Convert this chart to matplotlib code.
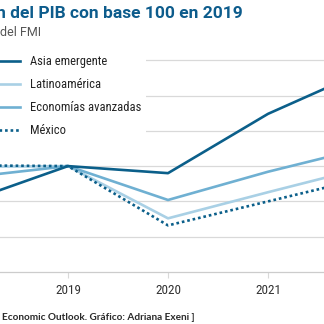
import matplotlib
matplotlib.use("Agg")
import matplotlib.pyplot as plt
from matplotlib import font_manager

years = [2018, 2019, 2020, 2021, 2022]
asia = [95.0, 100.0, 99.0, 107.4, 113.7]
latam = [99.9, 100.0, 92.6, 96.3, 99.9]
avanzadas = [98.4, 100.0, 95.2, 99.2, 102.7]
mexico = [100.1, 100.0, 91.6, 95.0, 98.4]
xticks = [2019, 2020, 2021]

names = {f.name for f in font_manager.fontManager.ttflist}
cond = "DejaVu Sans"
for cand in ["Roboto Condensed", "Liberation Sans Narrow", "DejaVu Sans Condensed"]:
    if cand in names:
        cond = cand
        break

dark = "#0b5f8a"
light = "#a9d0e5"
mid = "#6fb0d2"
grid_c = "#d9d9d9"

W = H = 324
fig = plt.figure(figsize=(3.24, 3.24), dpi=100, facecolor="white")
# axes: x from pixel 0 to 324, y from pixel 272 (85) to 40
ax = fig.add_axes([0, (H - 272) / H, 1, (272 - 40) / H])
ax.set_xlim(2018.32, 2021.56)
ax.set_ylim(85, 85 + 232 / 7.06)

ax.plot(years, asia, color=dark, lw=1.9, label="Asia emergente", zorder=4)
ax.plot(years, latam, color=light, lw=1.9, label="Latinoamérica", zorder=3)
ax.plot(years, avanzadas, color=mid, lw=1.9, label="Economías avanzadas", zorder=3)
ax.plot(years, mexico, color=dark, lw=1.9, ls=(0, (1, 1.1)), label="México", zorder=5)

ax.set_yticks([90, 95, 100, 105, 110, 115])
ax.yaxis.grid(True, color=grid_c, lw=0.9)
ax.set_axisbelow(True)
ax.tick_params(axis="y", left=False, labelleft=False)
ax.set_xticks(xticks)
ax.set_xticklabels([str(x) for x in xticks], fontsize=9.5, color="#333333",
                   family=cond)
ax.tick_params(axis="x", length=4, width=0.8, color=grid_c, pad=5)
for s in ["top", "left", "right"]:
    ax.spines[s].set_visible(False)
ax.spines["bottom"].set_color("#cccccc")
ax.spines["bottom"].set_linewidth(0.9)

leg = ax.legend(loc="upper left", bbox_to_anchor=(-16 / W, 1 - 50 / H),
                bbox_transform=fig.transFigure, frameon=True, facecolor="white",
                edgecolor="none", framealpha=1, fancybox=False,
                prop={"family": cond, "size": 9}, handlelength=2.5,
                handletextpad=0.75, labelspacing=0.8, borderpad=0.4,
                borderaxespad=0)
for t in leg.get_texts():
    t.set_color("#222222")
leg.set_zorder(10)

fig.text(243 / W, 1 - 13 / H, "Evolución del PIB con base 100 en 2019",
         ha="right", va="center", fontsize=12.5, fontweight="bold",
         color="#0d5c8c", family="Roboto")
fig.text(41 / W, 1 - 32 / H, "Con datos del FMI", ha="right", va="center",
         fontsize=9, color="#555555", family="Roboto")
fig.text(195 / W, 1 - 317 / H,
         "[ Fuente: FMI, World Economic Outlook. Gráfico: Adriana Exeni ]",
         ha="right", va="center", fontsize=7.2, color="#2a2a2a",
         family="Lato", fontweight="bold")

fig.savefig("out.png", dpi=100, facecolor="white")
